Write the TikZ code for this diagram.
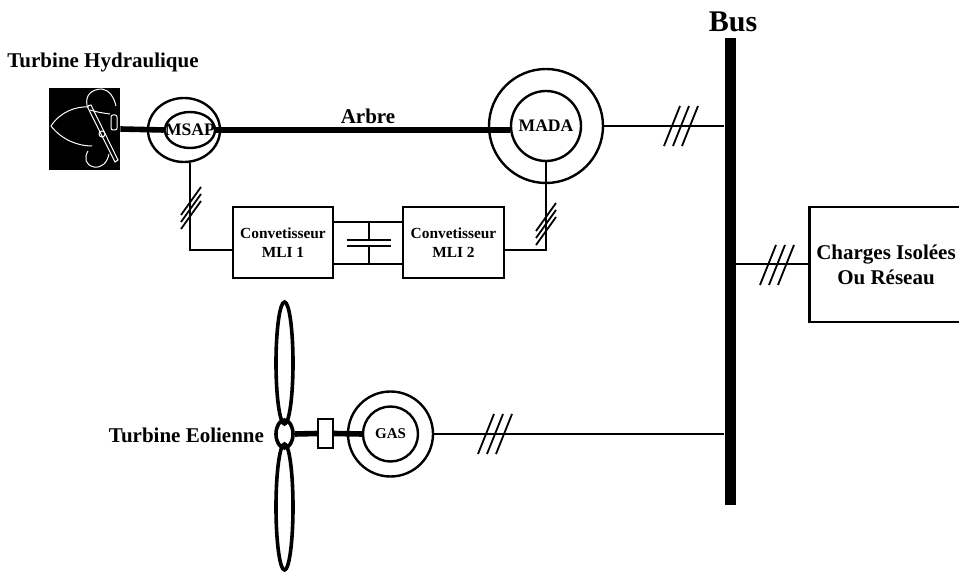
\documentclass[tikz,border=0pt]{standalone}
\usepackage{fontspec}
\setmainfont{Liberation Serif}
\usetikzlibrary{shapes.geometric}

\tikzset{
    lbl/.style={font=\bfseries\fontsize{10.5}{12.5}\selectfont},
    wire/.style={line width=1pt},
    shaft/.style={line width=2.8pt},
    hslash/.pic={\foreach \d in {-9,0,9} \draw[line width=0.9pt] (\d-8,20) -- (\d+8,-20);},
    vslash/.pic={\foreach \d in {-7,0,7} \draw[line width=0.9pt] (-10,\d+14) -- (10,\d-14);}
}

\begin{document}
\begin{tikzpicture}[x=0.5pt, y=-0.5pt]
    \useasboundingbox (0,0) rectangle (959,572);

    \node [lbl] (th) at (103,62) {Turbine Hydraulique};
    \node [fill=black, inner sep=0, minimum width=35.5pt, minimum height=41pt] (h) at (84.5,129) {};
    \begin{scope}[white, line width=0.5pt]
        \draw (51,126) .. controls (60,112) and (76,106) .. (89,107);
        \draw (51,126) .. controls (62,140) and (78,146) .. (92,146);
        \draw (87,106) -- (115,162) -- (118,160) -- (91,105) -- cycle;
        \draw (87,105) .. controls (85,95) and (92,89) .. (102,89) .. controls (109,90) and (114,97) .. (116,106);
        \draw (90,110) .. controls (96,112) and (103,113) .. (110,114);
        \draw (88,151) .. controls (84,158) and (85,165) .. (94,167) .. controls (102,168) and (107,163) .. (109,154);
        \draw (102,134) circle [radius=3];
        \draw[rounded corners=1pt] (111,115) rectangle (117,130);
    \end{scope}

    \node [draw, ellipse, line width=1.2pt, inner sep=0, minimum width=36pt, minimum height=32pt] (m) at (184,130) {};
    \node [draw, ellipse, line width=1.2pt, inner sep=0, minimum width=25pt, minimum height=18pt,
           font=\bfseries\fontsize{8.8}{10}\selectfont] (mi) at (190,130) {\makebox[0pt]{MSAP}};
    \node [draw, circle, line width=1.2pt, inner sep=0, minimum size=57pt] (a) at (546,126) {};
    \node [draw, circle, line width=1.2pt, inner sep=0, minimum size=35pt,
           font=\bfseries\fontsize{8.8}{10}\selectfont] (ai) at (546,126) {\makebox[0pt]{MADA}};
    \draw [shaft] (h.east) -- (mi.west);
    \draw [shaft] (mi.east) -- (ai.west |- mi.east);
    \node [lbl] (arbre) at (368,116) {Arbre};

    \node [draw, line width=1.2pt, minimum width=50pt, minimum height=35.5pt, align=center,
           font=\bfseries\fontsize{7.7}{9.5}\selectfont] (c1) at (283,242.5) {Convetisseur\\MLI 1};
    \node [draw, line width=1.2pt, minimum width=50.5pt, minimum height=35.5pt, align=center,
           font=\bfseries\fontsize{7.7}{9.5}\selectfont] (c2) at (453.5,242.5) {Convetisseur\\MLI 2};
    \draw [wire] ([yshift=10.25pt]c1.east) -- ([yshift=10.25pt]c2.west);
    \draw [wire] ([yshift=-10.75pt]c1.east) -- ([yshift=-10.75pt]c2.west);
    \coordinate (cap) at (369,243);
    \draw [wire] (cap |- 0,222) -- ([yshift=1.5pt]cap);
    \draw [wire] (cap |- 0,264) -- ([yshift=-1.5pt]cap);
    \draw [line width=1.3pt] ([shift={(-22,-3)}]cap) -- ([shift={(22,-3)}]cap);
    \draw [line width=1.3pt] ([shift={(-22,3)}]cap) -- ([shift={(22,3)}]cap);

    \draw [wire] (mi.south |- m.south) |- ([yshift=-3.75pt]c1.west);
    \draw [wire] (ai.south) |- ([yshift=-3.75pt]c2.east);
    \pic at (191,208) {vslash};
    \pic at (546,224) {vslash};

    \node [fill=black, inner sep=0, minimum width=5.5pt, minimum height=233.5pt] (bus) at (730,271.5) {};
    \node [font=\bfseries\fontsize{15}{18}\selectfont] (bl) at (733,22) {Bus};
    \draw [wire] (a.east) -- (a.east -| bus.west);
    \pic at (681,126) {hslash};

    \node [draw, line width=1.3pt, minimum width=71pt, minimum height=57.5pt, align=center,
           lbl] (ch) at (886,264.5) {Charges Isolées\\Ou Réseau};
    \draw [wire] (bus.east |- ch.west) -- (ch.west);
    \pic at (777,265) {hslash};

    \node [draw, ellipse, line width=1.8pt, inner sep=0, minimum width=8.5pt, minimum height=14pt] (hub) at (284.5,434) {};
    \node [draw, ellipse, line width=1.8pt, inner sep=0, minimum width=8.5pt, minimum height=61pt] (b1) at (284.5,363) {};
    \node [draw, ellipse, line width=1.8pt, inner sep=0, minimum width=8.5pt, minimum height=63pt] (b2) at (284.5,507) {};
    \node [lbl, anchor=east] (te) at (271,435) {Turbine Eolienne};
    \node [draw, line width=1.2pt, inner sep=0, minimum width=7.5pt, minimum height=14.5pt] (k) at (325.5,433.5) {};
    \node [draw, circle, line width=1.2pt, inner sep=0, minimum size=42.5pt] (g) at (390.5,434) {};
    \node [draw, circle, line width=1.2pt, inner sep=0, minimum size=27.5pt,
           font=\bfseries\fontsize{7.5}{9}\selectfont] (gi) at (390.5,434) {\makebox[0pt]{GAS}};
    \draw [shaft] (hub.east) -- (k.west);
    \draw [shaft] (k.east) -- (gi.west);
    \draw [wire] (g.east) -- (g.east -| bus.west);
    \pic at (495,434) {hslash};
\end{tikzpicture}
\end{document}
